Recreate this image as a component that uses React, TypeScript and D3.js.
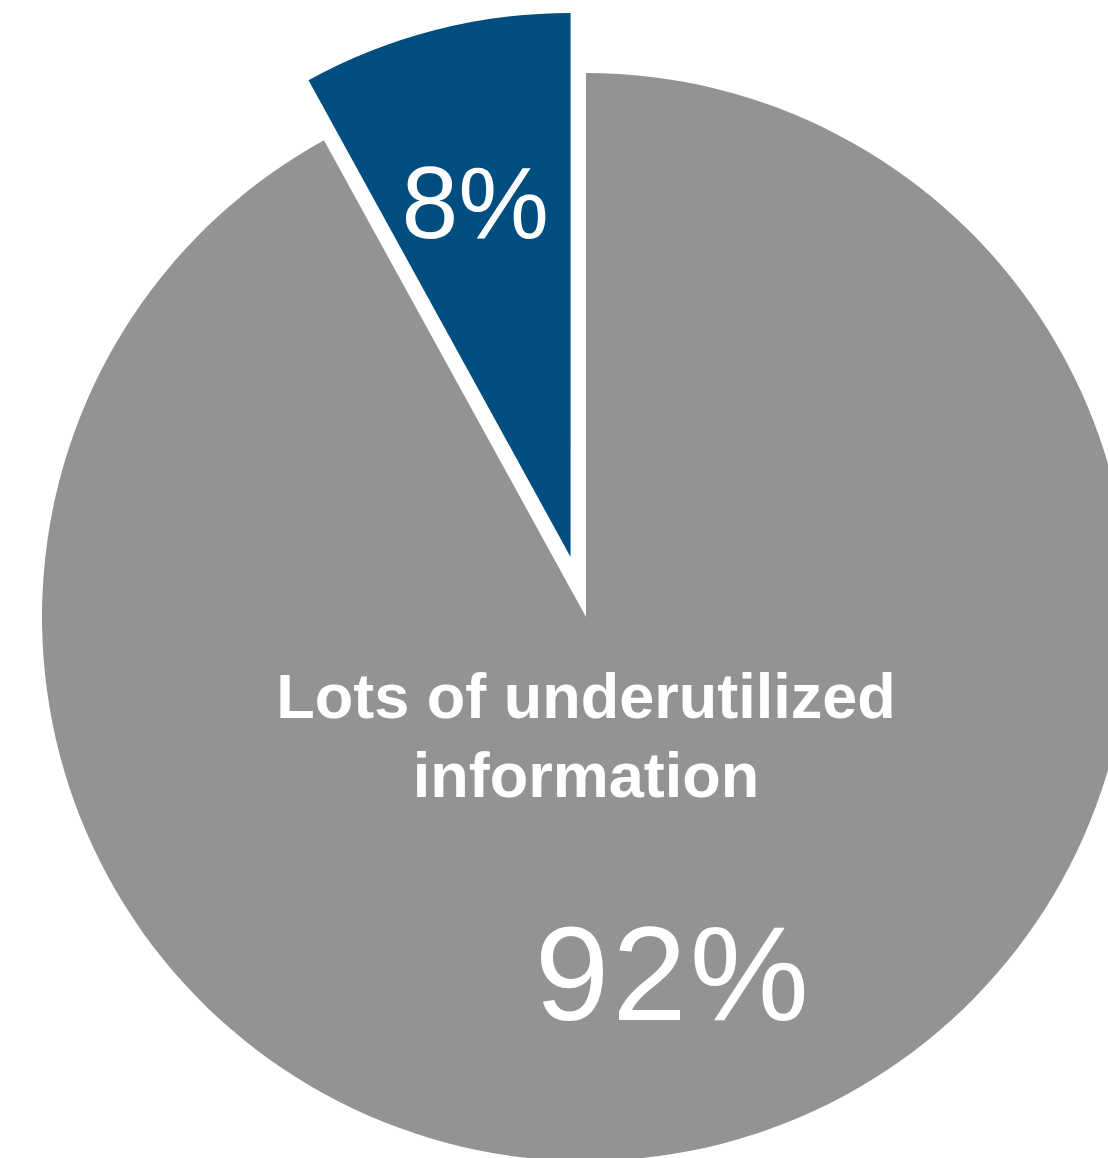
import React from "react";
import * as d3 from "d3";

const categories = ["Other", "Lots of underutilized information"];
const values = [8, 92];
const labels = ["8%", "92%"];
const colors = ["#004e7f", "#939393"];

export default function App() {
  const W = 1108;
  const H = 1158;
  const cx = 586;
  const cy = 617;
  const R = 544;
  const explode = 62;
  const labelR = 367;

  const pie = d3
    .pie<number>()
    .sort(null)
    .startAngle(-0.08 * 2 * Math.PI)
    .endAngle(0.92 * 2 * Math.PI)
    .value((d) => d);
  const arcs = pie(values);
  const arc = d3.arc<d3.PieArcDatum<number>>().innerRadius(0).outerRadius(R);
  const labelArc = d3.arc<d3.PieArcDatum<number>>().innerRadius(labelR).outerRadius(labelR);
  const fontSizes = [102, 134];

  return (
    <svg
      width={W}
      height={H}
      style={{ position: "absolute", left: 0, top: 0 }}
      fontFamily="'Liberation Sans', Arial, Helvetica, sans-serif"
    >
      <rect width={W} height={H} fill="#ffffff" />
      <g transform={`translate(${cx},${cy})`}>
        {arcs.map((a, i) => {
          const mid = (a.startAngle + a.endAngle) / 2;
          const off = i === 0 ? explode : 0;
          const ox = Math.sin(mid) * off;
          const oy = -Math.cos(mid) * off;
          const [lx, ly] = labelArc.centroid(a);
          return (
            <g key={categories[i]} transform={`translate(${ox},${oy})`}>
              <path d={arc(a) || ""} fill={colors[i]} />
              <text
                x={lx - 4}
                y={ly + fontSizes[i] * 0.358}
                textAnchor="middle"
                fill="#ffffff"
                fontSize={fontSizes[i]}
                fontWeight={300}
                letterSpacing={i === 1 ? 3 : 0}
              >
                {labels[i]}
              </text>
            </g>
          );
        })}
        <text textAnchor="middle" fill="#ffffff" fontSize={63} fontWeight="bold">
          <tspan x={0} y={101}>Lots of underutilized</tspan>
          <tspan x={0} y={180}>information</tspan>
        </text>
      </g>
    </svg>
  );
}
